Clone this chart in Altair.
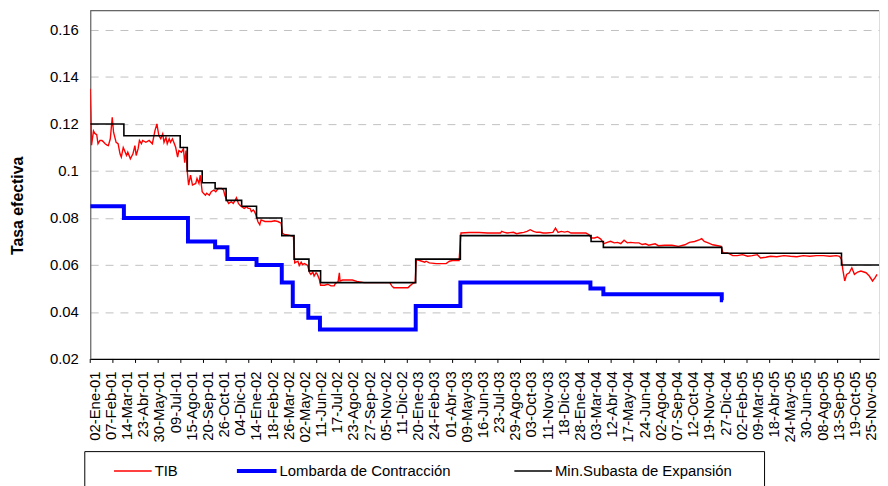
import json
import altair as alt
import pandas as pd

# ---------------- data (x = trading-day index) ----------------
tib_idx = [0, 1, 2, 5, 7, 10, 12, 15, 18, 20, 23, 26, 28, 31, 34, 36, 40, 43, 46, 48, 51, 53, 56, 58, 62, 66, 69, 71, 74, 76,
           79, 81, 86, 91, 96, 100, 103, 106, 109, 112, 114, 117, 119, 122, 124, 127, 130, 132, 135, 137, 141, 144, 146, 148,
           150, 152, 155, 158, 163, 165, 168, 170, 173, 175, 178, 180, 184, 187, 191, 194, 198, 203, 206, 208, 211, 214, 218,
           221, 224, 226, 229, 231, 234, 238, 242, 244, 247, 249, 252, 254, 257, 259, 262, 264, 270, 275, 280, 285, 290, 295,
           297, 300, 305, 310, 314, 316, 321, 323, 326, 328, 331, 334, 336, 339, 341, 344, 346, 349, 351, 354, 356, 362, 367,
           372, 377, 379, 383, 385, 386, 390, 397, 405, 412, 423, 438, 453, 463, 466, 469, 479, 491, 494, 499, 502, 504, 509,
           517, 519, 524, 535, 550, 555, 560, 570, 573, 586, 601,
           614, 634, 636, 639, 644, 654, 659, 664, 670, 675, 680, 685, 690, 695, 700, 705, 715, 719, 723, 728, 733, 738, 743,
           748, 756, 766, 771, 774, 779, 784, 789, 794, 799, 804, 810, 815, 820, 825, 830, 835, 842, 848, 853, 858, 863, 873,
           878, 888, 899,
           909, 919, 926, 934, 942, 945, 949, 955, 962, 970, 975, 978, 985, 993, 1000, 1008, 1016, 1023, 1031, 1036, 1044,
           1051, 1061, 1072, 1082, 1092, 1102, 1112, 1122, 1133, 1143, 1153, 1158, 1161, 1163, 1166, 1169, 1173, 1177, 1181,
           1186, 1191, 1199, 1204, 1209, 1213, 1216]
tib_val = [0.135, 0.125, 0.111, 0.117, 0.116, 0.1155, 0.1116, 0.113, 0.113, 0.1125, 0.1116, 0.111, 0.1108, 0.1137, 0.1228,
           0.1165, 0.1122, 0.1116, 0.1073, 0.1059, 0.110, 0.1087, 0.1066, 0.108, 0.1052, 0.1073, 0.1108, 0.1066, 0.1095, 0.113,
           0.1116, 0.113, 0.1122, 0.113, 0.1116, 0.1172, 0.120, 0.1151, 0.1137, 0.1158, 0.1122, 0.1143, 0.1116, 0.1137, 0.1122,
           0.1137, 0.1116, 0.1101, 0.1059, 0.1087, 0.108, 0.1095, 0.1035, 0.1087,
           0.0996, 0.094, 0.0982, 0.094, 0.0947, 0.0968, 0.0947, 0.0982, 0.0912, 0.0905, 0.0897, 0.0905, 0.0897, 0.0912, 0.0919,
           0.0912, 0.0926, 0.0926, 0.0919, 0.0897, 0.0876, 0.0862, 0.0869, 0.0862, 0.0876, 0.0886, 0.0862, 0.0855, 0.0848,
           0.0841, 0.0848, 0.0841, 0.0841, 0.0827, 0.0834, 0.0827, 0.0806, 0.0785, 0.0771, 0.0792, 0.0785, 0.0785, 0.0785,
           0.0788, 0.0785, 0.0778,
           0.0735, 0.073, 0.0728, 0.0725, 0.0722, 0.0609, 0.0616, 0.0598, 0.0612, 0.0602, 0.0606, 0.0602, 0.0598, 0.0567,
           0.056, 0.057, 0.0553, 0.0567, 0.056, 0.0539, 0.0514, 0.0514, 0.0518, 0.0511, 0.0511, 0.0522, 0.0528, 0.0567, 0.0532,
           0.0536, 0.0536, 0.0536, 0.053, 0.0525, 0.0525, 0.0525, 0.0525, 0.0511, 0.0503, 0.0503, 0.0503, 0.0511, 0.0522,
           0.0525, 0.0623, 0.0619, 0.0612, 0.0616, 0.0609, 0.0606, 0.0606, 0.0616, 0.0619, 0.0619, 0.0736, 0.0738, 0.0738,
           0.0736, 0.0736, 0.0743, 0.074, 0.0736, 0.0739, 0.0733, 0.0736, 0.0739, 0.0743, 0.075, 0.0743, 0.0739, 0.0739,
           0.0736, 0.0736, 0.0739, 0.0757, 0.0739, 0.0743, 0.074, 0.0743, 0.0736, 0.0736, 0.0736, 0.0736, 0.0729, 0.0715,
           0.0715, 0.0719, 0.071, 0.0691, 0.0696, 0.0701, 0.0694, 0.0696, 0.0691, 0.0705, 0.0694, 0.0696, 0.0694, 0.0694,
           0.0687, 0.069, 0.0684, 0.069, 0.0682, 0.0684, 0.0684,
           0.0679, 0.0686, 0.0696, 0.07, 0.0708, 0.0712, 0.07, 0.0694, 0.0686, 0.0682, 0.0679, 0.0651, 0.0651, 0.064, 0.064,
           0.0644, 0.0637, 0.064, 0.0644, 0.063, 0.0633, 0.0637, 0.0635, 0.064, 0.0637, 0.0635, 0.064, 0.0637, 0.064, 0.064,
           0.0637, 0.064, 0.0637, 0.0624, 0.0581, 0.0532, 0.056, 0.0567, 0.0588, 0.056, 0.057, 0.0574, 0.0567, 0.0553, 0.0532,
           0.0546, 0.056]

lomb_idx = [0, 52, 151, 193, 212, 257, 296, 313, 337, 355, 503, 572, 773, 793, 976, 978]
lomb_val = [0.085, 0.08, 0.07, 0.0675, 0.0625, 0.06, 0.0525, 0.0425, 0.0375, 0.0325, 0.0425, 0.0525, 0.05, 0.0475, 0.045, 0.045]

subasta_idx = [0, 52, 139, 150, 173, 193, 210, 234, 257, 296, 315, 338, 356, 503, 572, 774, 793, 976, 1161, 1220]
subasta_val = [0.12, 0.115, 0.11, 0.10, 0.095, 0.0925, 0.0875, 0.085, 0.08, 0.0725, 0.0625, 0.0575, 0.0525, 0.0625,
               0.0725, 0.07, 0.0675, 0.065, 0.06, 0.06]

date_labels = ["02-Ene-01", "07-Feb-01", "14-Mar-01", "23-Abr-01", "30-May-01", "09-Jul-01", "15-Ago-01", "20-Sep-01",
               "26-Oct-01", "04-Dic-01", "14-Ene-02", "18-Feb-02", "26-Mar-02", "02-May-02", "11-Jun-02", "17-Jul-02",
               "23-Ago-02", "27-Sep-02", "05-Nov-02", "11-Dic-02", "20-Ene-03", "24-Feb-03", "01-Abr-03", "09-May-03",
               "16-Jun-03", "23-Jul-03", "29-Ago-03", "03-Oct-03", "11-Nov-03", "18-Dic-03", "28-Ene-04", "03-Mar-04",
               "12-Abr-04", "17-May-04", "24-Jun-04", "02-Ago-04", "07-Sep-04", "12-Oct-04", "19-Nov-04", "27-Dic-04",
               "02-Feb-05", "09-Mar-05", "18-Abr-05", "24-May-05", "30-Jun-05", "08-Ago-05", "13-Sep-05", "19-Oct-05",
               "25-Nov-05"]
label_step = 25
tick_step = 35
series_names = ["TIB", "Lombarda de Contracción", "Min.Subasta de Expansión"]
y_ticks = [0.02, 0.04, 0.06, 0.08, 0.10, 0.12, 0.14, 0.16]

# ---------------- layout ----------------
W, H = 796, 352
X_MAX = 1219
Y_MIN, Y_MAX = 0.02, 0.02 + H / 2371.4
FONT = "Liberation Sans"

tib_df = pd.DataFrame({"idx": tib_idx, "val": tib_val})
lomb_df = pd.DataFrame({"idx": lomb_idx, "val": lomb_val})
sub_df = pd.DataFrame({"idx": subasta_idx, "val": subasta_val})
tick_df = pd.DataFrame({"idx": list(range(0, X_MAX, tick_step))})
one = pd.DataFrame({"a": [0]})

label_values = [i * label_step for i in range(len(date_labels))]
label_expr = json.dumps(date_labels) + "[round(datum.value / %d)]" % label_step

x_enc = alt.X("idx:Q",
              scale=alt.Scale(domain=[0, X_MAX], nice=False, zero=False),
              axis=alt.Axis(values=label_values, labelExpr=label_expr, labelAngle=-90, labelFontSize=15,
                            labelFont=FONT, labelColor="black", labelPadding=12, labelOffset=4,
                            labelOverlap=False, labelFlush=False, ticks=False, tickSize=0, grid=False,
                            domainColor="black", domainWidth=1.2, title=None))
y_enc = alt.Y("val:Q",
              scale=alt.Scale(domain=[Y_MIN, Y_MAX], nice=False, zero=False),
              axis=alt.Axis(values=y_ticks, format=".2~f", labelFontSize=15, labelFont=FONT, labelColor="black",
                            labelPadding=12, ticks=False, tickSize=0, grid=True, gridColor="#c0c0c0",
                            gridDash=[8, 7], gridWidth=1, domainColor="#666666", domainWidth=1.2,
                            title="Tasa efectiva", titleFont=FONT, titleFontSize=16, titleFontWeight="bold",
                            titleColor="black", titleX=-73, titleY=197, titleBaseline="middle", titleAngle=270))

tib_line = alt.Chart(tib_df).mark_line(color="#ff0000", strokeWidth=1.4, clip=True).encode(x=x_enc, y=y_enc)
lomb_line = alt.Chart(lomb_df).mark_line(color="#0000ff", strokeWidth=4, interpolate="step-after",
                                         clip=True).encode(x=x_enc, y=y_enc)
sub_line = alt.Chart(sub_df).mark_line(color="black", strokeWidth=1.6, interpolate="step-after",
                                       clip=True).encode(x=x_enc, y=y_enc)

ticks = alt.Chart(tick_df).mark_rule(color="black", strokeWidth=1).encode(
    x=x_enc, y=alt.value(H), y2=alt.value(H + 4))
top_border = alt.Chart(one).mark_rule(color="#666666", strokeWidth=1.2).encode(
    x=alt.value(0), x2=alt.value(W), y=alt.value(0.5))

# legend (drawn below the axis labels)
leg_box = alt.Chart(one).mark_rect(fillOpacity=0, stroke="black", strokeWidth=1).encode(
    x=alt.value(-5.5), x2=alt.value(680.5), y=alt.value(445.5), y2=alt.value(500))
LY = 465
leg_items = []
for name, color, sw, x0, x1 in [(series_names[0], "#ff0000", 1.6, 24, 62),
                                (series_names[1], "#0000ff", 4, 148, 188),
                                (series_names[2], "black", 1.6, 428, 466)]:
    leg_items.append(alt.Chart(one).mark_rule(color=color, strokeWidth=sw).encode(
        x=alt.value(x0), x2=alt.value(x1), y=alt.value(LY)))
    leg_items.append(alt.Chart(one).mark_text(align="left", baseline="middle", fontSize=15, font=FONT,
                                              color="black").encode(
        x=alt.value(x1 + 3), y=alt.value(LY), text=alt.value(name)))

chart = alt.layer(tib_line, lomb_line, sub_line, ticks, top_border, leg_box, *leg_items).properties(
    width=W, height=H,
    autosize=alt.AutoSizeParams(type="none"),
    padding={"left": 83, "top": 0, "right": 1, "bottom": 478 - H},
).configure_view(strokeWidth=0).configure(background="white")

chart.save("out.html", embed_options={"renderer": "svg", "actions": False})
